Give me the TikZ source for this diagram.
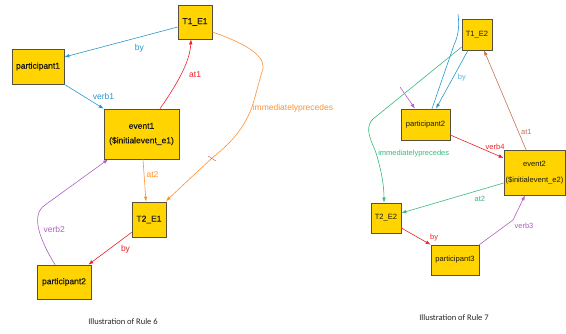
\documentclass[tikz,border=0pt]{standalone}
\usepackage{fontspec}
\setmainfont{Liberation Sans}
\newfontfamily\capfont{Carlito}
\newfontfamily\heavyfont[FakeBold=0.35]{Liberation Sans}
\usetikzlibrary{arrows.meta}

\definecolor{boxfill}{RGB}{255,212,0}
\definecolor{boxline}{RGB}{88,80,60}
\definecolor{eblue}{RGB}{40,150,205}
\definecolor{lblue}{RGB}{90,175,225}
\definecolor{ered}{RGB}{240,30,40}
\definecolor{eorange}{RGB}{255,145,50}
\definecolor{epurple}{RGB}{175,95,195}
\definecolor{egreen}{RGB}{55,185,120}
\definecolor{ebrown}{RGB}{195,115,80}

\begin{document}
\begin{tikzpicture}[x=1pt,y=-1pt,
  box/.style={draw=boxline, fill=boxfill, line width=0.7pt, inner sep=1pt, align=center, text=black!90},
  lbox/.style={box, font=\heavyfont\fontsize{8.5}{14.5}\selectfont},
  rbox/.style={box, font=\fontsize{7.6}{15.5}\selectfont},
  edge/.style={line width=0.6pt, -{Latex[length=5pt,width=3.6pt]}},
  plain/.style={line width=0.6pt},
  lab/.style={font=\fontsize{8.5}{10}\selectfont, inner sep=0pt},
  rlab/.style={font=\fontsize{7.5}{9}\selectfont, inner sep=0pt},
  caption/.style={font=\capfont\fontsize{8.5}{10}\selectfont, text=black!85, inner sep=0pt}]
\useasboundingbox (0,0) rectangle (566,333);

% ---------- Rule 6 ----------
\node[lbox, minimum width=34pt, minimum height=34pt] (t1e1) at (195,22) {T1\_E1};
\node[lbox, minimum width=52pt, minimum height=35pt] (p1) at (38,66.5) {participant1};
\node[lbox, minimum width=75pt, minimum height=50pt] (ev1) at (141.5,134) {event1\\(\$initialevent\_e1)};
\node[lbox, minimum width=34pt, minimum height=35pt] (t2e1) at (149,219.5) {T2\_E1};
\node[lbox, minimum width=54pt, minimum height=34pt] (p2a) at (64,282) {participant2};

\draw[edge, eblue] ([yshift=-5pt]t1e1.west) -- ([yshift=9.5pt]p1.east)
  node[lab, text=eblue, pos=0.338, shift={(0,11)}] {by};
\draw[edge, eblue] (p1.south east) -- (ev1.north west)
  node[lab, text=eblue, pos=0.5, shift={(19.5,0)}] {verb1};
\draw[edge, ered] ([xshift=18.5pt]ev1.north) .. controls (180,80) and (190,60) .. ([xshift=-4pt]t1e1.south)
  node[lab, text=ered, pos=0.5, shift={(12.5,4)}] {at1};
\draw[edge, eorange] ([yshift=-10pt]t1e1.east)
  .. controls (250,45) and (268,58) .. (262,72)
  .. controls (258,85) and (255,98) .. (252,107)
  node[lab, text=eorange, anchor=west, xshift=0.5pt, yshift=-1.5pt] {immediatelyprecedes}
  .. controls (245,125) and (235,140) .. (212,158)
  -- ([xshift=-0.5pt,yshift=0.5pt]t2e1.north east);
\draw[line width=0.5pt, ebrown] (208,156) -- (216,161);
\draw[edge, eorange] ([xshift=1.5pt]ev1.south) -- ([xshift=-3pt]t2e1.north)
  node[lab, text=eorange, pos=0.35, shift={(8.5,0)}] {at2};
\draw[edge, ered] ([yshift=5pt]t2e1.south west) -- ([xshift=-3pt]p2a.north east)
  node[lab, text=ered, pos=0.5, shift={(15.5,0.5)}] {by};
\draw[edge, epurple] ([xshift=-9pt]p2a.north)
  .. controls (40,240) and (30,215) .. (45,205)
  node[lab, text=epurple, pos=0.5, shift={(15.5,0)}] {verb2}
  -- ([xshift=4.5pt]ev1.south west);

\node[caption] (cap6) at (123,322) {Illustration of Rule 6};

% ---------- Rule 7 ----------
\node[rbox, minimum width=30pt, minimum height=31pt] (t1e2) at (477,34.5) {T1\_E2};
\node[rbox, minimum width=49pt, minimum height=31pt] (p2b) at (425.5,124.5) {participant2};
\node[rbox, minimum width=61pt, minimum height=45pt] (ev2) at (534.5,172.5) {event2\\(\$initialevent\_e2)};
\node[rbox, minimum width=30pt, minimum height=30pt] (t2e2) at (386,218) {T2\_E2};
\node[rbox, minimum width=48pt, minimum height=30pt] (p3) at (455,260) {participant3};

\coordinate (topin) at (458,14);
\coordinate (purpin) at (400,87);

\draw[plain, eblue] (topin) .. controls (460,30) and (457,38) .. (454,45) -- ([xshift=6.5pt]p2b.north);
\draw[edge, eblue] ([xshift=-9pt]t1e2.south) -- ([xshift=10.5pt]p2b.north)
  node[rlab, text=lblue, pos=0.475, shift={(9,0)}] {by};
\draw[edge, epurple] (purpin) -- ([xshift=-10.5pt]p2b.north);
\draw[edge, egreen] ([yshift=-12.5pt]t1e2.west) -- (373,119)
  .. controls (366,126) and (368,135) .. (375,150)
  node[rlab, text=egreen, anchor=west, shift={(3,4)}] {immediatelyprecedes}
  .. controls (381,168) and (384,185) .. ([xshift=-2pt]t2e2.north);
\draw[edge, ered] ([yshift=-10.5pt]p2b.east) -- ([yshift=14.5pt]ev2.west)
  node[rlab, text=ered, pos=0.84, shift={(0,-8)}] {verb4};
\draw[edge, ebrown] ([xshift=-8.5pt]ev2.north) -- ([xshift=7pt]t1e2.south)
  node[rlab, text=ebrown, pos=0.18, shift={(8,0)}] {at1};
\draw[edge, egreen] ([yshift=-10.5pt]ev2.west) -- ([yshift=5pt]t2e2.east)
  node[rlab, text=egreen, pos=0.233, shift={(0,9)}] {at2};
\draw[edge, ered] ([yshift=-10pt]t2e2.east) -- (p3.north west)
  node[rlab, text=ered, pos=1, shift={(3.5,-7)}] {by};
\draw[edge, epurple] (p3.north east) -- (513,220)
  node[rlab, text=epurple, shift={(11,6)}] {verb3}
  -- ([xshift=-9.5pt]ev2.south);

\node[caption] (cap7) at (454,318) {Illustration of Rule 7};
\end{tikzpicture}
\end{document}
